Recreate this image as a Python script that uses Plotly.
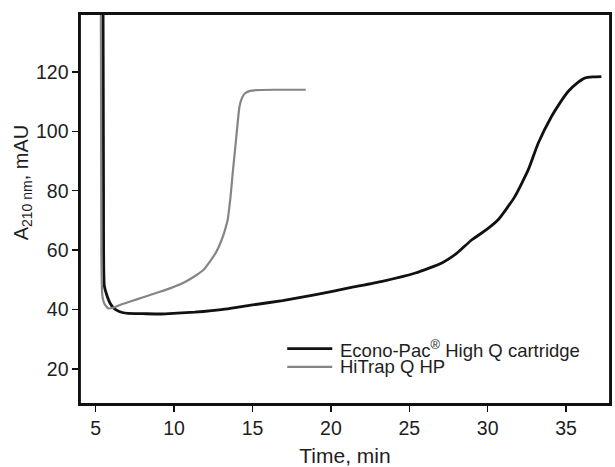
import plotly.graph_objects as go

# Econo-Pac High Q cartridge (black)
econo_time = [5.47, 5.50, 5.55, 5.7, 5.91, 6.1, 6.33, 6.7, 7.07, 8.0, 9.19, 10.2, 11.31, 12.4, 13.42,
              14.8, 16.92, 19.04, 21.15, 23.27, 25.39, 27.08, 28.0, 28.99, 29.9, 30.68, 31.74, 32.59,
              33.22, 34.07, 34.6, 35.13, 35.7, 36.19, 36.7, 37.25]
econo_abs = [145, 80, 48, 45, 42.2, 40.8, 39.8, 39.0, 38.7, 38.6, 38.5, 38.8, 39.1, 39.6, 40.2,
             41.4, 43, 45, 47.3, 49.5, 52.3, 55.7, 58.8, 63.5, 66.8, 70.3, 78.1, 87.1,
             96, 105, 109.5, 113.4, 116.2, 117.9, 118.3, 118.4]

# HiTrap Q HP (gray)
hitrap_time = [5.33, 5.36, 5.42, 5.55, 5.8, 6.1, 6.43, 7.2, 8.13, 9.0, 9.82, 10.6, 11.31, 11.9, 12.37,
               12.7, 13.0, 13.2, 13.42, 13.6, 13.74, 13.95, 14.17, 14.35, 14.55, 14.85, 15.23, 16.5, 18.4]
hitrap_abs = [145, 60, 45, 42, 40.4, 40.6, 41.3, 42.7, 44.3, 45.8, 47.3, 49.0, 51.2, 53.5, 56.8,
              59.5, 63, 66, 70.3, 78, 86, 97.1, 108.3, 111.5, 112.9, 113.6, 113.9, 114, 114]

series_names = ["Econo-Pac<sup>®</sup> High Q cartridge", "HiTrap Q HP"]
series_colors = ["#111111", "#858585"]
series_widths = [2.8, 2.2]
x_ticks = [5, 10, 15, 20, 25, 30, 35]
y_ticks = [20, 40, 60, 80, 100, 120]

FONT = "Liberation Sans, Arial, sans-serif"
TXT = "#1e1e1e"

fig = go.Figure()
for t, v, name, col, w in zip([econo_time, hitrap_time], [econo_abs, hitrap_abs],
                              series_names, series_colors, series_widths):
    fig.add_trace(go.Scatter(x=t, y=v, mode="lines", name=name, showlegend=False,
                             line=dict(color=col, width=w, shape="spline", smoothing=0.5)))

axis_common = dict(showline=True, linecolor="#111111", linewidth=1.6, mirror=True,
                   ticks="outside", ticklen=6, tickwidth=1.5, tickcolor="#111111",
                   showgrid=False, zeroline=False,
                   tickfont=dict(family=FONT, size=19.5, color=TXT))

fig.update_xaxes(range=[4.0, 37.8], tickvals=x_ticks, **axis_common,
                 title=dict(text="Time, min", font=dict(family=FONT, size=21, color=TXT),
                            standoff=10))
fig.update_yaxes(range=[8.2, 139.5], tickvals=y_ticks, **axis_common)

# frame around the plot area
fig.add_shape(type="rect", xref="paper", yref="paper", x0=0, x1=1, y0=0, y1=1,
              line=dict(color="#111111", width=1.8), layer="above")

fig.add_annotation(text="A<sub>210 nm</sub>, mAU", textangle=-90, xref="paper", yref="paper",
                   x=-0.109, y=0.569, xanchor="center", yanchor="middle", showarrow=False,
                   font=dict(family=FONT, size=20, color=TXT))

# Legend drawn inside the plot (lower right)
leg_y = [0.142, 0.095]
for name, col, w, yy in zip(series_names, series_colors, series_widths, leg_y):
    fig.add_shape(type="line", xref="paper", yref="paper", x0=0.391, x1=0.476, y0=yy, y1=yy,
                  line=dict(color=col, width=w))
    fig.add_annotation(text=name, xref="paper", yref="paper", x=0.487, y=yy,
                       xanchor="left", yanchor="middle", showarrow=False,
                       font=dict(family=FONT, size=18.5, color=TXT))

fig.update_layout(
    width=615, height=467,
    margin=dict(l=80, r=3, t=14, b=63),
    paper_bgcolor="white", plot_bgcolor="white",
    showlegend=False,
)

fig.write_html("out.html", config={"displayModeBar": False, "staticPlot": True},
               post_script="document.body.style.margin='0px';document.body.style.overflow='hidden';")
